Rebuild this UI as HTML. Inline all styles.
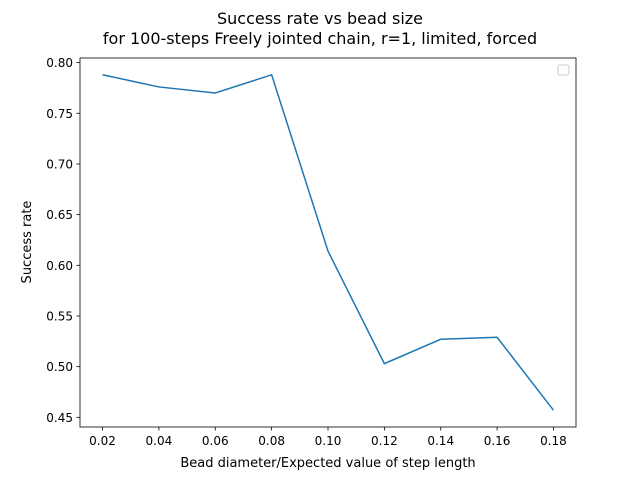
<!DOCTYPE html>
<html><head><meta charset="utf-8"><style>
body{margin:0;background:#fff;}
svg text{font-family:"DejaVu Sans","Liberation Sans",sans-serif;}
</style></head><body>
<svg width="640" height="480" viewBox="0 0 640 480" xmlns="http://www.w3.org/2000/svg">
<rect width="640" height="480" fill="#fff"/>
<text x="320" y="24" text-anchor="middle" font-size="16">Success rate vs bead size</text>
<text x="320" y="44" text-anchor="middle" font-size="16">for 100-steps Freely jointed chain, r=1, limited, forced</text>
<g id="ticks"></g>
<polyline id="line" fill="none" stroke="#1f77b4" stroke-width="1.5"/>
<rect x="80" y="58" width="496" height="369" fill="none" stroke="#000" stroke-width="0.8"/>
<rect x="558" y="65" width="11" height="10" rx="2" fill="#fff" stroke="#ccc"/>
<text x="328" y="467" text-anchor="middle" font-size="13">Bead diameter/Expected value of step length</text>
<text x="31" y="242" text-anchor="middle" font-size="13" transform="rotate(-90 31 242)">Success rate</text>
</svg>
<script>
const xValues=[0.02,0.04,0.06,0.08,0.10,0.12,0.14,0.16,0.18];
const successRates=[0.788,0.776,0.770,0.788,0.614,0.503,0.527,0.529,0.457];
const xTicks=[0.02,0.04,0.06,0.08,0.10,0.12,0.14,0.16,0.18];
const yTicks=[0.45,0.50,0.55,0.60,0.65,0.70,0.75,0.80];
const L=80,R=576,T=58,B=427;
const xmin=0.012,xmax=0.188;
const dmin=Math.min(...successRates),dmax=Math.max(...successRates),pad=(dmax-dmin)*0.05;
const ymin=dmin-pad,ymax=dmax+pad;
const sx=v=>L+(v-xmin)/(xmax-xmin)*(R-L);
const sy=v=>B-(v-ymin)/(ymax-ymin)*(B-T);
const NS="http://www.w3.org/2000/svg";
const g=document.getElementById('ticks');
function mk(t,a){const e=document.createElementNS(NS,t);for(const k in a)e.setAttribute(k,a[k]);g.appendChild(e);return e;}
xTicks.forEach(v=>{const x=sx(v);
 const l=mk('line',{x1:x,x2:x,y1:B,y2:B+3.5,stroke:'#000','stroke-width':0.8});
 
 
 const t=mk('text',{x:x,y:B+18,'text-anchor':'middle','font-size':12});t.textContent=v.toFixed(2);
 
 });
yTicks.forEach(v=>{const y=sy(v);
 const l=mk('line',{x1:L-3.5,x2:L,y1:y,y2:y,stroke:'#000','stroke-width':0.8});
 
 
 const t=mk('text',{x:L-7,y:y+4.5,'text-anchor':'end','font-size':12});t.textContent=v.toFixed(2);
 
 });
document.getElementById('line').setAttribute('points',xValues.map((x,i)=>sx(x)+','+sy(successRates[i])).join(' '));
</script>
</body></html>
